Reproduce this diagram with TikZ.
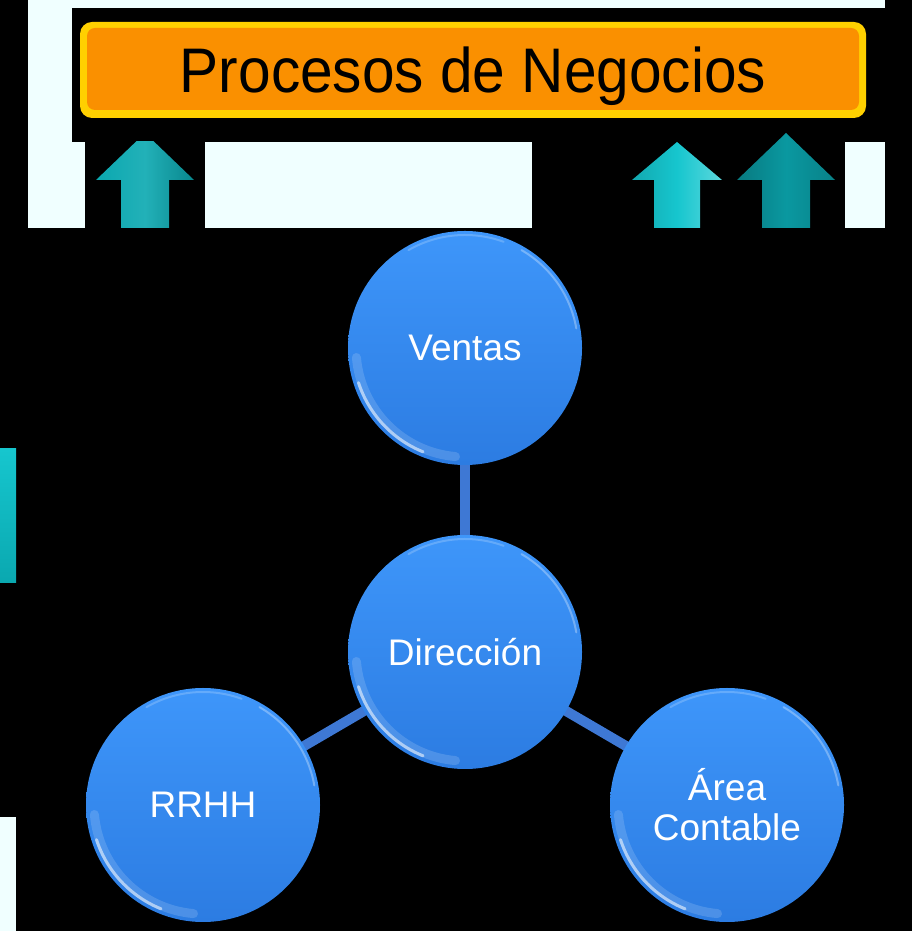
\documentclass[tikz,border=0pt]{standalone}
\usepackage{fontspec}
\setmainfont{Liberation Sans}
\begin{document}
\begin{tikzpicture}[x=1pt,y=1pt]
\definecolor{pale}{RGB}{240,255,255}
\definecolor{ballTop}{RGB}{62,150,250}
\definecolor{ballBot}{RGB}{44,124,226}
\definecolor{edgeBlue}{RGB}{62,120,212}
\definecolor{bannerYellow}{RGB}{255,208,0}
\definecolor{bannerOrange}{RGB}{250,144,0}
\definecolor{tealA}{RGB}{10,168,176}
\definecolor{tealB}{RGB}{22,198,206}
\definecolor{tealC}{RGB}{10,152,160}
\tikzset{
  ball/.style={circle, minimum size=234pt, inner sep=0pt, top color=ballTop, bottom color=ballBot,
    text=white, font=\fontsize{37}{40}\selectfont, align=center},
  link/.style={edgeBlue, line width=10pt},
  rim/.style={white, line width=3pt, opacity=0.55, line cap=round},
  rimsoft/.style={white, line width=9pt, opacity=0.15, line cap=round}
}
% background
\fill[black] (0,0) rectangle (912,931);
\useasboundingbox (0,0) rectangle (912,931);
% pale top region
\fill[pale] (28,703) rectangle (885,931);
\fill[black] (72,789) rectangle (885,923);
\fill[black] (85,703) rectangle (205,789);
\fill[black] (532,703) rectangle (845,789);
% left side pieces
\shade[top color=tealB, bottom color=tealA] (0,348) rectangle (16,482);
\fill[pale] (0,0) rectangle (16,114);
% banner
\node[fill=bannerYellow, rounded corners=12pt, minimum width=786pt, minimum height=96pt, inner sep=0pt] (bannerOuter) at (473,861) {};
\node[fill=bannerOrange, rounded corners=8pt, minimum width=772pt, minimum height=82pt, inner sep=0pt] (bannerInner) at (473,862) {};
\node[font=\fontsize{63}{63}\selectfont, text=black, inner sep=0pt] (banner) at (473,855) {\scalebox{0.93}[1]{Procesos de Negocios}};
% arrows
\begin{scope}
\clip (0,703) rectangle (912,789);
\shade[left color=tealA, right color=tealA!80!black, middle color=tealA!90!white]
  (145,798) -- (194,751) -- (169,751) -- (169,703) -- (121,703) -- (121,751) -- (96,751) -- cycle;
\end{scope}
\begin{scope}
\clip (0,703) rectangle (912,931);
\shade[left color=tealB!85!black, right color=tealB!70!white, middle color=tealB]
  (677,789) -- (722,751) -- (700,751) -- (700,703) -- (654,703) -- (654,751) -- (632,751) -- cycle;
\shade[left color=tealC!80!black, right color=tealC!85!black, middle color=tealC]
  (786,798) -- (835,751) -- (810,751) -- (810,703) -- (762,703) -- (762,751) -- (737,751) -- cycle;
\end{scope}
% ball positions (named), connectors, then balls on top
\coordinate (dirC) at (465,279);
\coordinate (venC) at (465,583);
\coordinate (rrhhC) at (203,126);
\coordinate (areaC) at (727,126);
\draw[link] (dirC) -- (venC);
\draw[link] (dirC) -- (rrhhC);
\draw[link] (dirC) -- (areaC);
\node[ball] (dir) at (dirC) {Dirección};
\node[ball] (ven) at (venC) {Ventas};
\node[ball] (rrhh) at (rrhhC) {RRHH};
\node[ball] (area) at (areaC) {Área\\Contable};
\foreach \n in {dir, ven, rrhh, area} {
  \draw[rimsoft] ([shift={(185:109)}]\n.center) arc[start angle=185, end angle=265, radius=109];
  \draw[rim] ([shift={(198:112)}]\n.center) arc[start angle=198, end angle=248, radius=112];
  \draw[white, line width=2pt, opacity=0.3, line cap=round] ([shift={(10:113)}]\n.center) arc[start angle=10, end angle=60, radius=113];
  \draw[white, line width=2pt, opacity=0.2, line cap=round] ([shift={(70:113)}]\n.center) arc[start angle=70, end angle=120, radius=113];
}
\end{tikzpicture}
\end{document}
